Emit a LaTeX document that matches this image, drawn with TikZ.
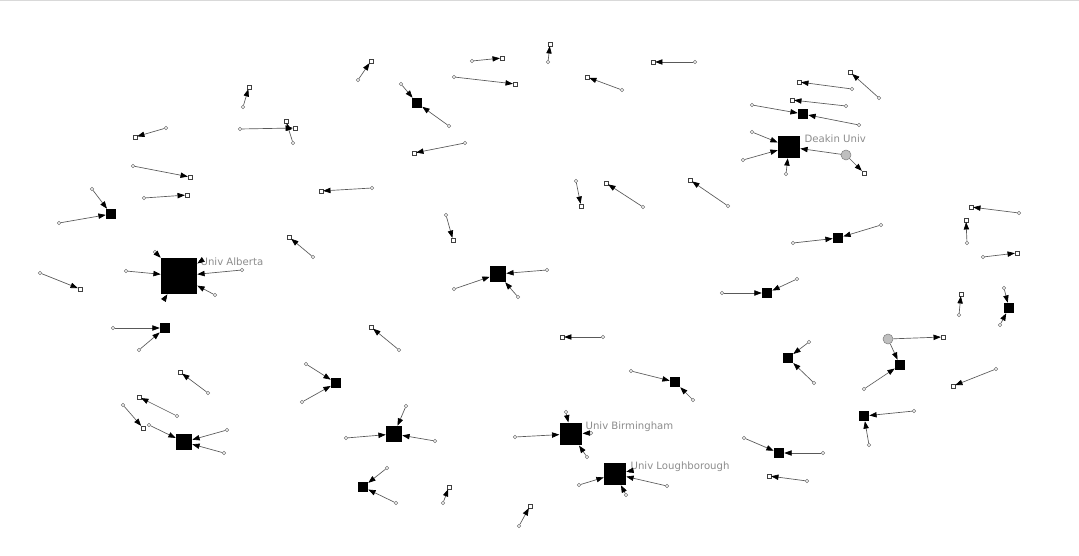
\documentclass[tikz,border=0pt]{standalone}
\usepackage{fontspec}
\setmainfont{DejaVu Sans}
\usetikzlibrary{arrows.meta}

\begin{document}
\begin{tikzpicture}[x=0.75pt,y=-0.75pt,
	src/.style={circle,draw=black!55,fill=white,inner sep=0pt,minimum size=2.6pt,line width=0.3pt},
	tgt/.style={rectangle,draw=black!75,fill=white,inner sep=0pt,minimum size=2.8pt,line width=0.4pt},
	hub/.style={rectangle,fill=black,inner sep=0pt,minimum size=#1},
	hub/.default=7.5pt,
	greydot/.style={circle,draw=black!50,fill=black!25,inner sep=0pt,minimum size=7.5pt,line width=0.4pt},
	lbl/.style={anchor=west,text=black!45,font=\fontsize{7.6}{9}\selectfont,inner sep=1pt},
	tie/.style={draw=black!65,line width=0.5pt,-{Triangle[length=5.5pt,width=4pt,color=black]}}]
	\useasboundingbox (0,0) rectangle (1079,556);
	\draw [black!15] (0,0.5) -- (1079,0.5);

	% the four named universities
	\node [hub=27pt] (alb) at (179,276) {};
	\node [hub=16.5pt] (dea) at (789,147) {};
	\node [hub=17pt] (bir) at (571,434) {};
	\node [hub=16.5pt] (lou) at (615,474) {};
	\node [lbl] at (199,262) {Univ Alberta};
	\node [lbl] at (803,139) {Deakin Univ};
	\node [lbl] at (584,427) {Univ Birmingham};
	\node [lbl] at (629,467) {Univ Loughborough};

	% other hubs
	\node [hub=12pt] (h21) at (498,274) {};
	\node [hub=12pt] (h52) at (394,434) {};
	\node [hub=12pt] (h60) at (184,442) {};
	\node [hub] (h5) at (417,103) {};
	\node [hub] (h15) at (111,214) {};
	\node [hub] (h18) at (165,328) {};
	\node [hub] (h25) at (803,114) {};
	\node [hub] (h34) at (767,293) {};
	\node [hub] (h35) at (838,238) {};
	\node [hub] (h40) at (1009,308) {};
	\node [hub] (h42) at (788,358) {};
	\node [hub] (h43) at (900,365) {};
	\node [hub] (h45) at (864,416) {};
	\node [hub] (h46) at (675,382) {};
	\node [hub] (h47) at (779,453) {};
	\node [hub] (h51) at (336,383) {};
	\node [hub] (h53) at (363,487) {};

	% grey cut points
	\node [greydot] (g1) at (846,155) {};
	\node [greydot] (g2) at (888,339) {};

	% sources of the hubs
	\node [src] (alb1) at (155,252) {};
	\node [src] (alb2) at (126,271) {};
	\node [src] (alb3) at (242,270) {};
	\node [src] (alb4) at (215,295) {};
	\node [src] (alb5) at (165,298) {};
	\node [src] (alb6) at (201,261) {};
	\node [src] (dea1) at (752,132) {};
	\node [src] (dea2) at (743,160) {};
	\node [src] (dea3) at (786,174) {};
	\node [src] (bir1) at (566,412) {};
	\node [src] (bir2) at (515,437) {};
	\node [src] (bir3) at (587,457) {};
	\node [src] (bir4) at (591,433) {};
	\node [src] (lou1) at (579,485) {};
	\node [src] (lou2) at (667,486) {};
	\node [src] (lou3) at (626,495) {};
	\node [src] (lou4) at (630,471) {};
	\node [src] (h5a) at (401,84) {};
	\node [src] (h5b) at (449,126) {};
	\node [src] (h15a) at (92,189) {};
	\node [src] (h15b) at (59,223) {};
	\node [src] (h18a) at (113,328) {};
	\node [src] (h18b) at (139,350) {};
	\node [src] (h21a) at (454,289) {};
	\node [src] (h21b) at (518,297) {};
	\node [src] (h21c) at (547,270) {};
	\node [src] (h25a) at (752,105) {};
	\node [src] (h25b) at (859,125) {};
	\node [src] (h34a) at (722,293) {};
	\node [src] (h34b) at (797,279) {};
	\node [src] (h35a) at (793,243) {};
	\node [src] (h35b) at (881,225) {};
	\node [src] (h40a) at (1004,288) {};
	\node [src] (h40b) at (1000,325) {};
	\node [src] (h42a) at (809,342) {};
	\node [src] (h42b) at (814,383) {};
	\node [src] (h43a) at (864,389) {};
	\node [src] (h45a) at (914,411) {};
	\node [src] (h45b) at (869,445) {};
	\node [src] (h46a) at (631,371) {};
	\node [src] (h46b) at (693,400) {};
	\node [src] (h47a) at (744,438) {};
	\node [src] (h47b) at (823,453) {};
	\node [src] (h51a) at (306,364) {};
	\node [src] (h51b) at (302,402) {};
	\node [src] (h52a) at (346,438) {};
	\node [src] (h52b) at (406,406) {};
	\node [src] (h52c) at (435,441) {};
	\node [src] (h53a) at (387,468) {};
	\node [src] (h53b) at (396,503) {};
	\node [src] (h60a) at (149,425) {};
	\node [src] (h60b) at (227,430) {};
	\node [src] (h60c) at (224,453) {};

	% lone pairs: target, then source
	\node [tgt] (t1) at (550,44) {};   \node [src] (s1) at (548,62) {};
	\node [tgt] (t2) at (502,58) {};   \node [src] (s2) at (472,61) {};
	\node [tgt] (t3) at (515,84) {};   \node [src] (s3) at (454,77) {};
	\node [tgt] (t4) at (371,61) {};   \node [src] (s4) at (358,80) {};
	\node [tgt] (t6) at (414,153) {};  \node [src] (s6) at (465,143) {};
	\node [tgt] (t7) at (321,191) {};  \node [src] (s7) at (372,188) {};
	\node [tgt] (t8) at (295,128) {};  \node [src] (s8) at (240,129) {};
	\node [tgt] (t10) at (286,121) {}; \node [src] (s10) at (293,143) {};
	\node [tgt] (t9) at (249,87) {};   \node [src] (s9) at (243,107) {};
	\node [tgt] (t11) at (135,137) {}; \node [src] (s11) at (166,128) {};
	\node [tgt] (t12) at (190,177) {}; \node [src] (s12) at (133,166) {};
	\node [tgt] (t13) at (187,195) {}; \node [src] (s13) at (144,198) {};
	\node [tgt] (t17) at (80,289) {};  \node [src] (s17) at (40,273) {};
	\node [tgt] (t19) at (453,240) {}; \node [src] (s19) at (446,215) {};
	\node [tgt] (t20) at (289,237) {}; \node [src] (s20) at (313,257) {};
	\node [tgt] (t22) at (371,327) {}; \node [src] (s22) at (399,350) {};
	\node [tgt] (t23) at (653,62) {};  \node [src] (s23) at (695,62) {};
	\node [tgt] (t24) at (587,77) {};  \node [src] (s24) at (622,90) {};
	\node [tgt] (t27) at (799,82) {};  \node [src] (s27) at (852,89) {};
	\node [tgt] (t28) at (792,100) {}; \node [src] (s28) at (846,106) {};
	\node [tgt] (t29) at (850,72) {};  \node [src] (s29) at (879,98) {};
	\node [tgt] (t30) at (581,206) {}; \node [src] (s30) at (576,181) {};
	\node [tgt] (t31) at (606,183) {}; \node [src] (s31) at (643,207) {};
	\node [tgt] (t32) at (690,180) {}; \node [src] (s32) at (728,206) {};
	\node [tgt] (t33) at (562,337) {}; \node [src] (s33) at (603,337) {};
	\node [tgt] (t36) at (971,207) {}; \node [src] (s36) at (1019,213) {};
	\node [tgt] (t37) at (966,220) {}; \node [src] (s37) at (967,243) {};
	\node [tgt] (t38) at (1017,253) {};\node [src] (s38) at (983,257) {};
	\node [tgt] (t39) at (961,294) {}; \node [src] (s39) at (959,315) {};
	\node [tgt] (t44) at (953,386) {}; \node [src] (s44) at (996,369) {};
	\node [tgt] (t48) at (769,476) {}; \node [src] (s48) at (807,481) {};
	\node [tgt] (t54) at (449,487) {}; \node [src] (s54) at (443,503) {};
	\node [tgt] (t55) at (530,506) {}; \node [src] (s55) at (519,526) {};
	\node [tgt] (t57) at (180,372) {}; \node [src] (s57) at (208,393) {};
	\node [tgt] (t58) at (139,397) {}; \node [src] (s58) at (177,416) {};
	\node [tgt] (t59) at (143,428) {}; \node [src] (s59) at (123,405) {};
	\node [tgt] (tg1) at (864,173) {};
	\node [tgt] (tg2) at (943,337) {};

	% ties
	\foreach \a/\b in {alb1/alb,alb2/alb,alb3/alb,alb4/alb,alb5/alb,alb6/alb,
		dea1/dea,dea2/dea,dea3/dea,g1/dea,g1/tg1,
		bir1/bir,bir2/bir,bir3/bir,bir4/bir,lou1/lou,lou2/lou,lou3/lou,lou4/lou,
		h5a/h5,h5b/h5,h15a/h15,h15b/h15,h18a/h18,h18b/h18,
		h21a/h21,h21b/h21,h21c/h21,h25a/h25,h25b/h25,
		h34a/h34,h34b/h34,h35a/h35,h35b/h35,h40a/h40,h40b/h40,
		h42a/h42,h42b/h42,g2/h43,g2/tg2,h43a/h43,h45a/h45,h45b/h45,
		h46a/h46,h46b/h46,h47a/h47,h47b/h47,h51a/h51,h51b/h51,
		h52a/h52,h52b/h52,h52c/h52,h53a/h53,h53b/h53,
		h60a/h60,h60b/h60,h60c/h60}
		\draw [tie] (\a) -- (\b);
	\foreach \k in {1,2,3,4,6,7,8,9,10,11,12,13,17,19,20,22,23,24,27,28,29,
		30,31,32,33,36,37,38,39,44,48,54,55,57,58,59}
		\draw [tie] (s\k) -- (t\k);
\end{tikzpicture}
\end{document}
